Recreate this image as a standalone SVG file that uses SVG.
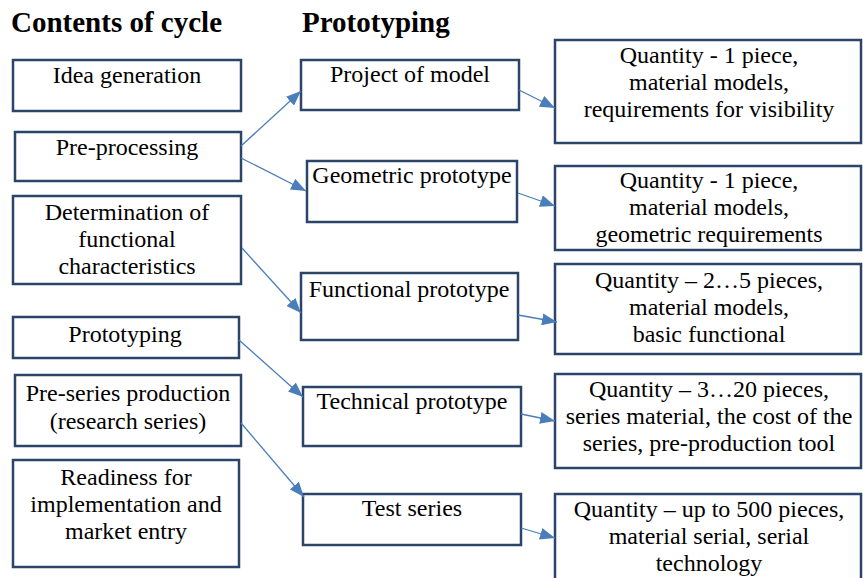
<svg xmlns="http://www.w3.org/2000/svg" width="863" height="578" viewBox="0 0 863 578">
<style>
.box{fill:#fff;stroke:#2b4569;stroke-width:2.5}
text{font-family:"Liberation Serif","Times New Roman",Tinos,"DejaVu Serif",serif;fill:#000}
.t{font-size:24px;font-weight:normal;text-anchor:middle}
.h{font-size:29px;font-weight:bold}
.c{stroke:#4a7ebb;stroke-width:1.3;fill:none;marker-end:url(#ah)}
</style>
<defs>
<marker id="ah" markerUnits="userSpaceOnUse" markerWidth="16" markerHeight="12" refX="15" refY="6" orient="auto">
<path d="M0,0 L15,6 L0,12 z" fill="#4a7ebb"/>
</marker>
</defs>
<rect width="863" height="578" fill="#fff"/>
<text class="h" x="11" y="32">Contents of cycle</text>
<text class="h" x="302" y="32">Prototyping</text>

<g id="idea"><rect class="box" x="13" y="60" width="228" height="51"/><text class="t" x="127" y="83">Idea generation</text></g>
<g id="preproc"><rect class="box" x="15" y="132" width="226" height="49"/><text class="t" x="127" y="155">Pre-processing</text></g>
<g id="determ"><rect class="box" x="13" y="196" width="228" height="88"/><text class="t" x="127" y="220">Determination of</text><text class="t" x="127" y="247">functional</text><text class="t" x="127" y="274">characteristics</text></g>
<g id="proto"><rect class="box" x="13" y="317" width="226" height="41"/><text class="t" x="125" y="342">Prototyping</text></g>
<g id="preseries"><rect class="box" x="15" y="375" width="226" height="71"/><text class="t" x="128" y="401">Pre-series production</text><text class="t" x="128" y="429">(research series)</text></g>
<g id="ready"><rect class="box" x="13" y="460" width="226" height="107"/><text class="t" x="126" y="485">Readiness for</text><text class="t" x="126" y="512">implementation and</text><text class="t" x="126" y="539">market entry</text></g>

<g id="project"><rect class="box" x="301" y="60" width="218" height="50"/><text class="t" x="410" y="82">Project of model</text></g>
<g id="geom"><rect class="box" x="307" y="161" width="210" height="61"/><text class="t" x="412" y="183">Geometric prototype</text></g>
<g id="func"><rect class="box" x="301" y="273" width="217" height="67"/><text class="t" x="409" y="297">Functional prototype</text></g>
<g id="tech"><rect class="box" x="303" y="387" width="218" height="59"/><text class="t" x="412" y="409">Technical prototype</text></g>
<g id="test"><rect class="box" x="303" y="494" width="218" height="51"/><text class="t" x="412" y="516">Test series</text></g>

<g id="r1"><rect class="box" x="555" y="40" width="306" height="103"/><text class="t" x="709" y="63">Quantity - 1 piece,</text><text class="t" x="709" y="90">material models,</text><text class="t" x="709" y="117">requirements for visibility</text></g>
<g id="r2"><rect class="box" x="555" y="166" width="306" height="84"/><text class="t" x="709" y="188">Quantity - 1 piece,</text><text class="t" x="709" y="215">material models,</text><text class="t" x="709" y="242">geometric requirements</text></g>
<g id="r3"><rect class="box" x="555" y="264" width="306" height="90"/><text class="t" x="709" y="288">Quantity – 2…5 pieces,</text><text class="t" x="709" y="315">material models,</text><text class="t" x="709" y="342">basic functional</text></g>
<g id="r4"><rect class="box" x="555" y="374" width="306" height="94"/><text class="t" x="709" y="397">Quantity – 3…20 pieces,</text><text class="t" x="709" y="424">series material, the cost of the</text><text class="t" x="709" y="451">series, pre-production tool</text></g>
<g id="r5"><rect class="box" x="555" y="494" width="306" height="100"/><text class="t" x="709" y="517">Quantity – up to 500 pieces,</text><text class="t" x="709" y="544">material serial, serial</text><text class="t" x="709" y="571">technology</text></g>

<g id="connectors">
<line class="c" x1="241" y1="146" x2="301" y2="91"/>
<line class="c" x1="241" y1="158" x2="306" y2="191"/>
<line class="c" x1="242" y1="248" x2="301" y2="313"/>
<line class="c" x1="239" y1="340" x2="303" y2="397"/>
<line class="c" x1="241" y1="423" x2="304" y2="497"/>
<line class="c" x1="519" y1="90" x2="555" y2="108"/>
<line class="c" x1="518" y1="193" x2="555" y2="206"/>
<line class="c" x1="518" y1="315" x2="557" y2="322"/>
<line class="c" x1="521" y1="414" x2="555" y2="421"/>
<line class="c" x1="521" y1="528" x2="555" y2="538"/>
</g>
</svg>
